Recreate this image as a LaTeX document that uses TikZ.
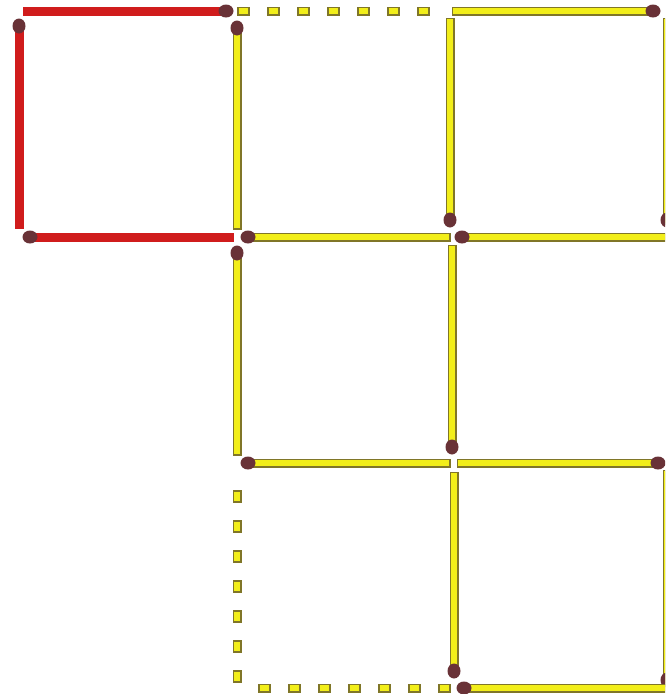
\documentclass[tikz,border=0pt]{standalone}
\definecolor{matchy}{RGB}{242,238,25}
\definecolor{matcho}{RGB}{128,118,40}
\definecolor{matchr}{RGB}{208,28,28}
\definecolor{headc}{RGB}{105,50,55}
\tikzset{
  ymatch/.style={draw=matcho, line width=1.8pt, double=matchy, double distance=5.4pt, line cap=rect},
  ydash/.style={ymatch, dash pattern=on 4pt off 26pt},
  rmatch/.style={draw=matchr, line width=9pt, line cap=rect},
  mhead/.style={fill=headc}
}
\begin{document}
\begin{tikzpicture}[x=1pt,y=-1pt]
\useasboundingbox (0,0) rectangle (665,694);
\clip (0,0) rectangle (665,694);
% red square
\draw[rmatch] (27.5,11) -- (226,11);
\fill[mhead] (226,11) ellipse (7.5 and 6.5);
\draw[rmatch] (19,26) -- (19,224);
\fill[mhead] (19,26) ellipse (6.5 and 7.5);
\draw[rmatch] (30,237) -- (229,237);
\fill[mhead] (30,237) ellipse (7.5 and 6.5);
% top row
\draw[ymatch] (237,28) -- (237,225);
\fill[mhead] (237,28) ellipse (6.5 and 7.5);
\draw[ydash] (241.5,11) -- (432,11);
\draw[ymatch] (456,11) -- (653,11);
\fill[mhead] (653,11) ellipse (7.5 and 6.5);
\draw[ymatch] (450,22) -- (450,220);
\fill[mhead] (450,220) ellipse (6.5 and 7.5);
\draw[ymatch] (667,22) -- (667,220);
\fill[mhead] (667,220) ellipse (6.5 and 7.5);
% second row
\draw[ymatch] (248,237) -- (446,237);
\fill[mhead] (248,237) ellipse (7.5 and 6.5);
\draw[ymatch] (462,237) -- (672,237);
\fill[mhead] (462,237) ellipse (7.5 and 6.5);
\draw[ymatch] (237,253) -- (237,451);
\fill[mhead] (237,253) ellipse (6.5 and 7.5);
\draw[ymatch] (452,249) -- (452,447);
\fill[mhead] (452,447) ellipse (6.5 and 7.5);
% third row
\draw[ymatch] (248,463) -- (446,463);
\fill[mhead] (248,463) ellipse (7.5 and 6.5);
\draw[ymatch] (461,463) -- (658,463);
\fill[mhead] (658,463) ellipse (7.5 and 6.5);
\draw[ydash] (237,494.5) -- (237,682);
\draw[ymatch] (454,476) -- (454,671);
\fill[mhead] (454,671) ellipse (6.5 and 7.5);
\draw[ymatch] (667,474) -- (667,680);
\fill[mhead] (667,680) ellipse (6.5 and 7.5);
% bottom row
\draw[ydash] (262.5,688) -- (452,688);
\draw[ymatch] (464,688) -- (672,688);
\fill[mhead] (464,688) ellipse (7.5 and 6.5);
\end{tikzpicture}
\end{document}
